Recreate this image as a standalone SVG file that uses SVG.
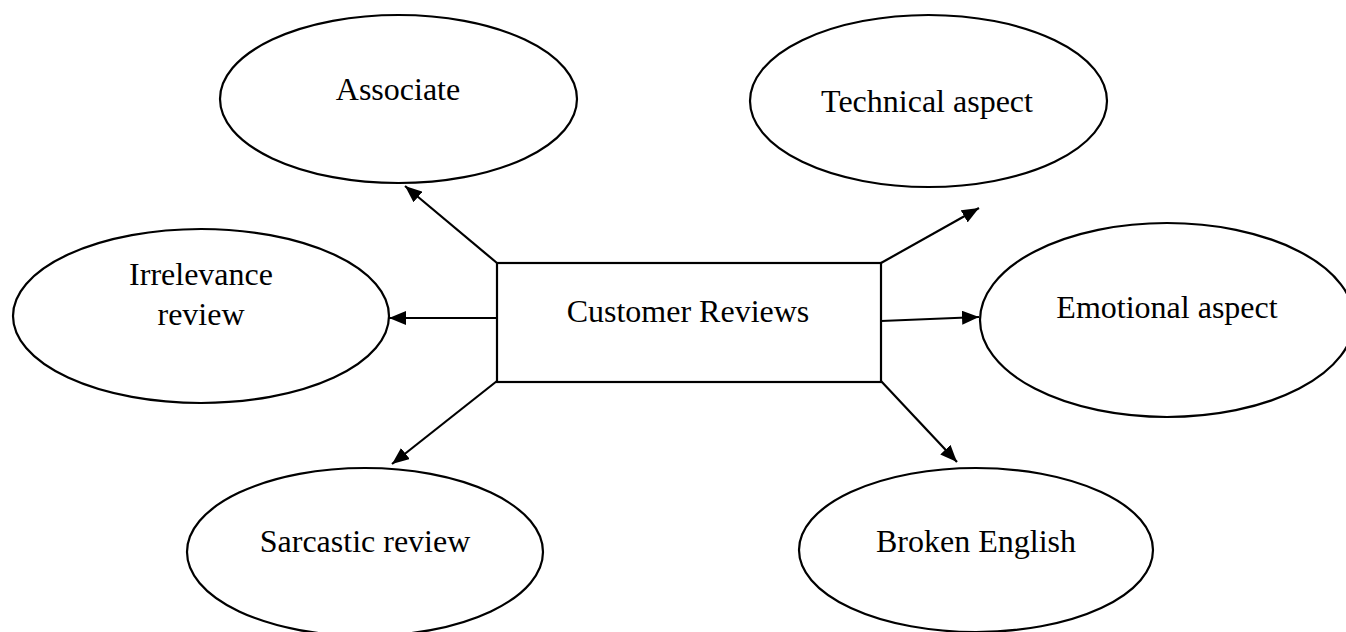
<svg xmlns="http://www.w3.org/2000/svg" width="1346" height="632" viewBox="0 0 1346 632">
<style>
.node{fill:#fff;stroke:#000;stroke-width:2.2}
.lbl{font-family:"Liberation Serif","Times New Roman",serif;font-size:32px;fill:#000;text-anchor:middle}
.edge{stroke:#000;stroke-width:2.2;fill:none;marker-end:url(#arr)}
</style>
<defs>
<marker id="arr" markerUnits="userSpaceOnUse" markerWidth="18" markerHeight="14" refX="17" refY="7" orient="auto">
<path d="M0,0 L17,7 L0,14 z" fill="#000"/>
</marker>
</defs>
<rect width="1346" height="632" fill="#fff"/>
<g id="associate"><ellipse class="node" cx="398.5" cy="99" rx="178.5" ry="84"/><text class="lbl" x="398" y="100">Associate</text></g>
<g id="technical"><ellipse class="node" cx="928.5" cy="101" rx="178.5" ry="86"/><text class="lbl" x="927" y="112">Technical aspect</text></g>
<g id="irrelevance"><ellipse class="node" cx="201" cy="316" rx="188" ry="87"/><text class="lbl" x="201" y="285">Irrelevance</text><text class="lbl" x="201" y="325">review</text></g>
<g id="emotional"><ellipse class="node" cx="1167" cy="320" rx="187" ry="97"/><text class="lbl" x="1167" y="318">Emotional aspect</text></g>
<g id="sarcastic"><ellipse class="node" cx="365" cy="552" rx="178" ry="84"/><text class="lbl" x="365" y="552">Sarcastic review</text></g>
<g id="broken"><ellipse class="node" cx="976" cy="550" rx="177" ry="82"/><text class="lbl" x="976" y="552">Broken English</text></g>
<g id="customer"><rect class="node" x="497" y="263" width="384" height="119"/><text class="lbl" x="688" y="322">Customer Reviews</text></g>
<g id="connectors">
<line class="edge" x1="497" y1="263" x2="405" y2="186"/>
<line class="edge" x1="881" y1="263" x2="979" y2="208"/>
<line class="edge" x1="497" y1="318" x2="389" y2="318"/>
<line class="edge" x1="881" y1="321" x2="979" y2="317"/>
<line class="edge" x1="497" y1="381" x2="392" y2="464"/>
<line class="edge" x1="881" y1="381" x2="957" y2="462"/>
</g>
</svg>
